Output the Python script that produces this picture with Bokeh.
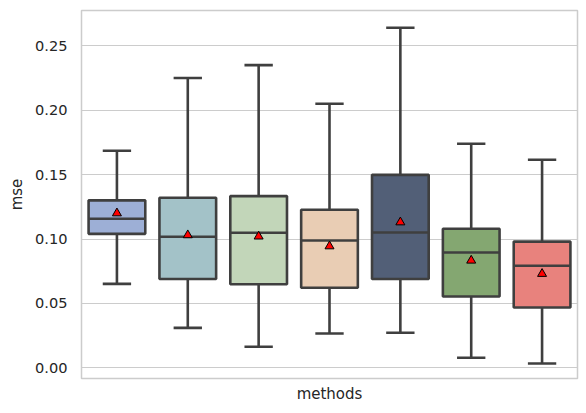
from bokeh.plotting import figure
from bokeh.models import FixedTicker, NumeralTickFormatter, Range1d, ColumnDataSource
from bokeh.embed import file_html
from bokeh.resources import INLINE

# data
methods = ["m1", "m2", "m3", "m4", "m5", "m6", "m7"]
whisk_low = [0.0652, 0.031, 0.0163, 0.0266, 0.0272, 0.0078, 0.0033]
q1 = [0.104, 0.069, 0.0649, 0.0621, 0.069, 0.0554, 0.0468]
median = [0.1157, 0.1017, 0.1048, 0.0988, 0.105, 0.0895, 0.0792]
q3 = [0.130, 0.132, 0.1333, 0.1227, 0.1498, 0.108, 0.098]
whisk_high = [0.1685, 0.225, 0.235, 0.205, 0.264, 0.174, 0.1615]
means = [0.120, 0.103, 0.102, 0.0944, 0.113, 0.0833, 0.073]
colors = ["#9dafd6", "#a3c2c8", "#c2d6b9", "#e9cdb4", "#525f77", "#84a771", "#e8827d"]
y_ticks = [0.0, 0.05, 0.10, 0.15, 0.20, 0.25]

xs = list(range(len(methods)))
src = ColumnDataSource(dict(
    x=xs, lo=whisk_low, q1=q1, med=median, q3=q3, hi=whisk_high, mean=means,
    color=colors,
    left=[x - 0.4 for x in xs], right=[x + 0.4 for x in xs],
    capl=[x - 0.2 for x in xs], capr=[x + 0.2 for x in xs],
))

FONT = "DejaVu Sans"
TXT = "#262626"
EDGE = "#3f3f3f"

p = figure(width=586, height=413, output_backend="svg", toolbar_location=None,
           x_range=Range1d(-0.5, 6.5), y_range=Range1d(-0.0083, 0.2774),
           min_border_left=81, min_border_right=9, min_border_top=10, min_border_bottom=35)
p.frame_width = 496
p.frame_height = 368

p.background_fill_color = "white"
p.border_fill_color = "white"
p.outline_line_color = "#cccccc"
p.outline_line_width = 1.5

p.xgrid.grid_line_color = None
p.ygrid.grid_line_color = "#cccccc"
p.ygrid.grid_line_width = 1

# y axis
p.yaxis.ticker = FixedTicker(ticks=y_ticks)
p.yaxis.formatter = NumeralTickFormatter(format="0.00")
p.yaxis.axis_label = "mse"
p.yaxis.axis_line_color = None
p.yaxis.major_tick_line_color = None
p.yaxis.minor_tick_line_color = None
p.yaxis.major_tick_out = 0
p.yaxis.major_label_standoff = 14
p.yaxis.axis_label_standoff = 6

# x axis
p.xaxis.ticker = FixedTicker(ticks=[])
p.xaxis.axis_label = "methods"
p.xaxis.axis_line_color = None
p.xaxis.major_tick_line_color = None
p.xaxis.minor_tick_line_color = None
p.xaxis.major_tick_out = 0
p.xaxis.axis_label_standoff = 6

for ax in (p.xaxis[0], p.yaxis[0]):
    ax.major_label_text_font = FONT
    ax.major_label_text_font_size = "14.6px"
    ax.major_label_text_color = TXT
    ax.axis_label_text_font = FONT
    ax.axis_label_text_font_size = "15px"
    ax.axis_label_text_font_style = "normal"
    ax.axis_label_text_color = TXT

LW = 2.6
# whiskers
p.segment(x0="x", y0="q3", x1="x", y1="hi", source=src, line_color=EDGE, line_width=LW)
p.segment(x0="x", y0="q1", x1="x", y1="lo", source=src, line_color=EDGE, line_width=LW)
# caps
p.segment(x0="capl", y0="hi", x1="capr", y1="hi", source=src, line_color=EDGE, line_width=LW)
p.segment(x0="capl", y0="lo", x1="capr", y1="lo", source=src, line_color=EDGE, line_width=LW)
# boxes
p.quad(left="left", right="right", bottom="q1", top="q3", source=src,
       fill_color="color", line_color=EDGE, line_width=LW)
# medians
p.segment(x0="left", y0="med", x1="right", y1="med", source=src, line_color=EDGE, line_width=LW)
# means
p.scatter(x="x", y="mean", source=src, marker="triangle", size=9,
          fill_color="red", line_color="black", line_width=1)

open("out.html", "w").write(file_html(p, INLINE))
